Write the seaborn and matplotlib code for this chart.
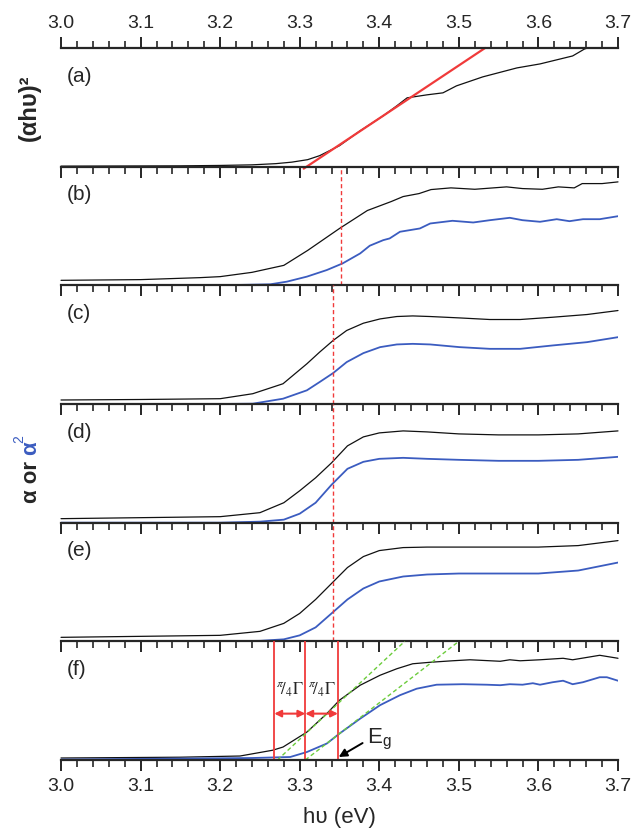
import matplotlib
matplotlib.use("Agg")
import matplotlib.pyplot as plt
from matplotlib.ticker import MultipleLocator
import pandas as pd
import seaborn as sns

# ---- data (photon energy in eV, signal in arbitrary units) ----
a_x = [3.00, 3.15, 3.20, 3.24, 3.27, 3.29, 3.31, 3.325, 3.35, 3.376, 3.405, 3.422,
       3.435, 3.46, 3.48, 3.497, 3.53, 3.573, 3.602, 3.643, 3.658, 3.662]
a_black = [0.5, 0.8, 1.2, 1.8, 3.0, 4.5, 7, 11, 21, 36, 51, 61,
           69, 72, 74, 81, 90, 99, 103, 111, 118, 119]
a_fit_x = [3.305, 3.533]
a_fit_y = [-2, 119]

b_x = [3.00, 3.10, 3.175, 3.20, 3.24, 3.28, 3.31, 3.35, 3.385, 3.415, 3.43, 3.45,
       3.465, 3.49, 3.52, 3.56, 3.58, 3.605, 3.625, 3.645, 3.655, 3.68, 3.70]
b_black = [5, 5.7, 7.7, 8.7, 13, 20, 35, 57, 75, 84, 89, 92,
           96, 97.7, 96.3, 98.7, 97, 96.3, 98.7, 97.7, 102, 102, 103.7]
b_blue_x = [3.00, 3.20, 3.263, 3.284, 3.309, 3.334, 3.354, 3.376, 3.388, 3.405, 3.413,
            3.426, 3.451, 3.464, 3.492, 3.518, 3.539, 3.564, 3.58, 3.602, 3.623,
            3.639, 3.656, 3.677, 3.70]
b_blue = [0, 0, 1, 3.7, 8.7, 15.3, 22, 32, 39.7, 45.3, 47,
          53.7, 57, 62, 64.7, 63, 65.3, 67.7, 65.3, 63.7, 66.3,
          64.3, 66.3, 66.3, 69.3]

c_x = [3.00, 3.10, 3.20, 3.241, 3.279, 3.309, 3.325, 3.342, 3.359, 3.38, 3.401, 3.422,
       3.442, 3.464, 3.501, 3.539, 3.577, 3.618, 3.661, 3.70]
c_black = [4, 4.5, 5.3, 10.3, 20.3, 40.3, 52, 63.7, 73.7, 81, 85.3, 87.7,
           88.3, 87.7, 86.3, 84.7, 84.7, 87, 89.7, 93.7]
c_blue = [0, 0, 0, 0.3, 5.3, 13.7, 22, 31, 42, 51, 57, 59.7,
          60.3, 59.7, 57, 55.3, 55.3, 58.7, 62, 67]

d_x = [3.00, 3.20, 3.25, 3.28, 3.30, 3.32, 3.34, 3.36, 3.38, 3.40, 3.43, 3.46,
       3.50, 3.55, 3.60, 3.65, 3.70]
d_black = [4, 6, 10, 20, 32, 45, 60, 77, 86, 90, 92, 91, 89, 88, 88, 89, 92]
d_blue = [0, 0, 1, 3, 9, 20, 38, 54, 61, 64, 65, 64, 63, 62, 62, 63, 66]

e_x = [3.00, 3.20, 3.25, 3.28, 3.30, 3.32, 3.34, 3.36, 3.38, 3.40, 3.43, 3.46,
       3.50, 3.55, 3.60, 3.65, 3.70]
e_black = [4, 6, 10, 18, 28, 42, 58, 74, 85, 91, 94, 94.5, 94.5, 94.5, 94.5, 96, 101]
e_blue = [0, 0, 0.5, 2, 6, 14, 28, 42, 53, 60, 65, 67, 68, 68, 68, 71, 79]

f_x = [3.00, 3.15, 3.225, 3.266, 3.279, 3.309, 3.334, 3.35, 3.376, 3.401, 3.422, 3.442,
       3.464, 3.492, 3.514, 3.552, 3.564, 3.577, 3.602, 3.631, 3.643, 3.677, 3.70]
f_black = [2, 2.8, 4, 9.8, 13, 28, 46.5, 60, 75, 85, 91.5, 96.5,
           98, 99.5, 100.5, 99, 100.5, 99.5, 100.5, 102, 100.5, 105, 102]
f_blue_x = [3.00, 3.24, 3.288, 3.309, 3.334, 3.35, 3.376, 3.401, 3.426, 3.447, 3.472,
            3.505, 3.535, 3.552, 3.564, 3.58, 3.593, 3.602, 3.618, 3.631, 3.643,
            3.656, 3.677, 3.686, 3.70]
f_blue = [0.5, 2, 3, 8, 16.5, 26.5, 41.5, 55, 65, 71.5, 75.5,
          76, 75.5, 75, 76, 75.5, 77, 75.5, 78, 79.5, 76,
          78, 83, 83, 79.5]

guide_b = 3.352          # dashed marker in (b)
guide_cde = 3.342        # dashed marker in (c)-(e)
f_bounds = [3.268, 3.307, 3.348]
f_green1_x, f_green1_y = [3.272, 3.432], [0, 119]
f_green2_x, f_green2_y = [3.307, 3.500], [0, 119]

BLACK = "#111111"
BLUE = "#3b5cc0"
RED = "#f03a3a"
GREEN = "#6ccc3c"

sns.set_style("ticks")
plt.rcParams["font.family"] = ["Liberation Sans", "DejaVu Sans"]

fig, axes = plt.subplots(6, 1, figsize=(6.33, 8.37), dpi=100, sharex=True)
fig.subplots_adjust(left=0.0964, right=0.9763, top=0.9415, bottom=0.0908, hspace=0)

panels = [
    ("(a)", a_x, a_black, None, None),
    ("(b)", b_x, b_black, b_blue_x, b_blue),
    ("(c)", c_x, c_black, c_x, c_blue),
    ("(d)", d_x, d_black, d_x, d_blue),
    ("(e)", e_x, e_black, e_x, e_blue),
    ("(f)", f_x, f_black, f_blue_x, f_blue),
]

for ax, (lab, x, yk, xb, yb) in zip(axes, panels):
    ax.set_facecolor("none")
    sns.lineplot(data=pd.DataFrame({"E": x, "s": yk}), x="E", y="s", ax=ax,
                 color=BLACK, lw=0.9, estimator=None, sort=False, clip_on=False)
    if xb is not None:
        sns.lineplot(data=pd.DataFrame({"E": xb, "s": yb}), x="E", y="s", ax=ax,
                     color=BLUE, lw=1.3, estimator=None, sort=False)
    ax.set_xlim(3.0, 3.7)
    ax.set_ylim(0, 119)
    ax.set_xlabel("")
    ax.set_ylabel("")
    ax.set_yticks([])
    for s in ["left", "right", "top"]:
        ax.spines[s].set_visible(False)
    ax.spines["bottom"].set_linewidth(1.6)
    ax.xaxis.set_major_locator(MultipleLocator(0.1))
    ax.xaxis.set_minor_locator(MultipleLocator(0.02))
    ax.tick_params(axis="x", which="major", direction="out", length=8, width=1.4,
                   labelsize=14, labelbottom=False, pad=4)
    ax.tick_params(axis="x", which="minor", direction="out", length=5, width=1.2)
    ax.text(0.01, 0.77, lab, transform=ax.transAxes, fontsize=15, va="center", ha="left")

# top axis of (a)
ax = axes[0]
ax.spines["top"].set_visible(True)
ax.spines["top"].set_linewidth(1.6)
ax.xaxis.set_ticks_position("both")
ax.tick_params(axis="x", which="both", top=True, labeltop=True)
ax.plot(a_fit_x, a_fit_y, color=RED, lw=1.6, clip_on=False)

# bottom labels on (f)
axes[-1].tick_params(axis="x", labelbottom=True)
axes[-1].set_xlabel("h\u03c5 (eV)", fontsize=16, labelpad=9)

# dashed guides
axes[1].axvline(guide_b, color=RED, lw=1.0, ls=(0, (3, 2)))
for ax in axes[2:5]:
    ax.axvline(guide_cde, color=RED, lw=1.0, ls=(0, (3, 2)))

# panel (f) annotations
ax = axes[5]
for xv in f_bounds:
    ax.axvline(xv, color=RED, lw=1.3)
ax.plot(f_green1_x, f_green1_y, color=GREEN, lw=1.0, ls=(0, (3, 2)))
ax.plot(f_green2_x, f_green2_y, color=GREEN, lw=1.0, ls=(0, (3, 2)))
for x0, x1 in zip(f_bounds[:-1], f_bounds[1:]):
    ax.annotate("", xy=(x0, 46.5), xytext=(x1, 46.5),
                arrowprops=dict(arrowstyle="<|-|>", color=RED, lw=1.5,
                                shrinkA=0, shrinkB=0, mutation_scale=10))
    ax.text((x0 + x1) / 2, 71, r"$^{\pi}\!/_{4}\Gamma$", ha="center", va="center",
            fontsize=12, math_fontfamily="stix")
ax.annotate("", xy=(3.349, 3), xytext=(3.379, 17),
            arrowprops=dict(arrowstyle="-|>", color="black", lw=1.4,
                            shrinkA=0, shrinkB=0, mutation_scale=12))
ax.text(3.384, 22, r"E$_\mathregular{g}$", fontsize=16, ha="left", va="center")

# y labels
fig.text(0.046, 1 - 108 / 837, "(\u03b1h\u03c5)\u00b2", rotation=90, fontsize=17,
         fontweight="bold", ha="center", va="center")
fig.canvas.draw()
r = fig.canvas.get_renderer()
t1 = fig.text(0.049, 1 - 503 / 837, "\u03b1 or ", rotation=90, fontsize=16,
              fontweight="bold", ha="center", va="bottom")
bb = t1.get_window_extent(r).transformed(fig.transFigure.inverted())
t2 = fig.text(0.049, bb.y1, "\u03b1", rotation=90, fontsize=16, color=BLUE,
              fontweight="bold", ha="center", va="bottom")
bb2 = t2.get_window_extent(r).transformed(fig.transFigure.inverted())
fig.text(0.030, bb2.y1 - 0.002, "2", rotation=90, fontsize=10, color=BLUE,
         ha="center", va="bottom")

fig.savefig("out.png", dpi=100)
